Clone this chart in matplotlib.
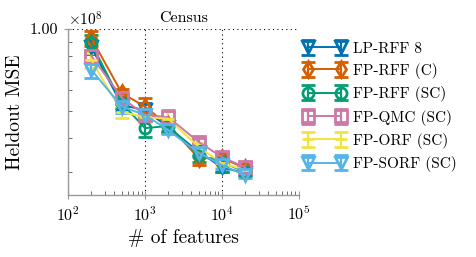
import matplotlib
matplotlib.use("Agg")
import matplotlib.pyplot as plt
from matplotlib.ticker import FixedLocator, FixedFormatter, NullFormatter

plt.rcParams['font.family'] = ['cmr10', 'DejaVu Serif']
plt.rcParams['mathtext.fontset'] = 'cm'
plt.rcParams['axes.formatter.use_mathtext'] = True

features = [200, 500, 1000, 2000, 5000, 10000, 20000]

names = ["LP-RFF 8", "FP-RFF (C)", "FP-RFF (SC)", "FP-QMC (SC)", "FP-ORF (SC)", "FP-SORF (SC)"]
colors = ["#0072B2", "#D55E00", "#009E73", "#CC79A7", "#F0E442", "#56B4E9"]
markers = ["v", "d", "o", "s", "_", "v"]

# values in units of 1e8
lp_rff8 = [0.86, 0.527, 0.505, 0.438, 0.355, 0.312, 0.297]
fp_rff_c = [0.927, 0.583, 0.52, 0.445, 0.337, 0.337, 0.31]
fp_rff_sc = [0.889, 0.535, 0.434, 0.442, 0.346, 0.326, 0.30]
fp_qmc_sc = [0.80, 0.56, 0.485, 0.476, 0.386, 0.34, 0.312]
fp_orf_sc = [0.77, 0.497, 0.476, 0.47, 0.37, 0.323, 0.305]
fp_sorf_sc = [0.71, 0.52, 0.485, 0.427, 0.352, 0.318, 0.292]

lp_rff8_err = [0.05, 0.02, 0.03, 0.02, 0.012, 0.012, 0.008]
fp_rff_c_err = [0.06, 0.02, 0.04, 0.025, 0.02, 0.012, 0.008]
fp_rff_sc_err = [0.06, 0.02, 0.03, 0.02, 0.02, 0.025, 0.008]
fp_qmc_sc_err = [0.04, 0.02, 0.02, 0.03, 0.012, 0.012, 0.008]
fp_orf_sc_err = [0.05, 0.025, 0.02, 0.03, 0.012, 0.01, 0.008]
fp_sorf_sc_err = [0.05, 0.025, 0.02, 0.015, 0.012, 0.01, 0.008]

series = [lp_rff8, fp_rff_c, fp_rff_sc, fp_qmc_sc, fp_orf_sc, fp_sorf_sc]
errors = [lp_rff8_err, fp_rff_c_err, fp_rff_sc_err, fp_qmc_sc_err, fp_orf_sc_err, fp_sorf_sc_err]

fig = plt.figure(figsize=(4.76, 2.57), dpi=100)
ax = fig.add_axes([0.143, 0.241, 0.485, 0.646])

for name, c, m, vals, err in zip(names, colors, markers, series, errors):
    y = [v * 1e8 for v in vals]
    e = [v * 1e8 for v in err]
    ax.errorbar(features, y, yerr=e, color=c, marker=m, markersize=8,
                markerfacecolor='none', markeredgewidth=2.0, linewidth=1.4,
                elinewidth=1.6, capsize=5, capthick=2.2, label=name)

ax.set_xscale('log')
ax.set_yscale('log')
ax.set_xlim(1e2, 1e5)
ax.set_ylim(0.247e8, 1.0e8)

ax.yaxis.set_major_locator(FixedLocator([1e8]))
ax.yaxis.set_major_formatter(FixedFormatter(['1.00']))
ax.yaxis.set_minor_locator(FixedLocator([v * 1e7 for v in range(3, 10)]))
ax.yaxis.set_minor_formatter(NullFormatter())

ax.grid(True, which='major', linestyle=(0, (1, 3)), color='black', linewidth=0.8)
for s in ['top', 'right']:
    ax.spines[s].set_visible(False)
for s in ['left', 'bottom']:
    ax.spines[s].set_color('#999999')
    ax.spines[s].set_linewidth(1.0)

ax.tick_params(which='major', direction='inout', length=6, color='#999999', labelsize=11.5, pad=4)
ax.tick_params(which='minor', direction='in', length=3, color='#555555')

ax.text(0.0, 1.0, r'$\times10^{8}$', transform=ax.transAxes, ha='left', va='bottom', fontsize=11)
ax.set_title('Census', fontsize=11.5, pad=5)
ax.set_xlabel('# of features', fontsize=14)
ax.set_ylabel('Heldout MSE', fontsize=14, labelpad=4)

ax.legend(loc='upper left', bbox_to_anchor=(0.995, 0.96), frameon=False, numpoints=2,
          fontsize=11, handlelength=2.7, handletextpad=0.5, labelspacing=0.48,
          borderaxespad=0.0)

fig.savefig('out.png', dpi=100)
